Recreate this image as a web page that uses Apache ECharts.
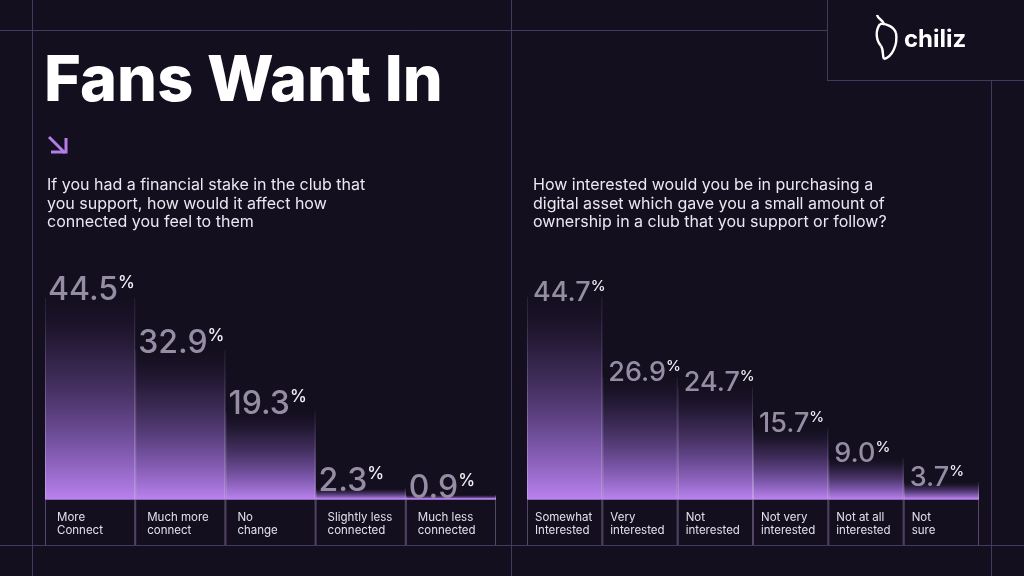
<!DOCTYPE html>
<html>
<head>
<meta charset="utf-8">
<script src="https://cdn.jsdelivr.net/npm/echarts@6/dist/echarts.min.js"></script>
<style>
html,body{margin:0;padding:0;background:#140f1f;}
#c{width:1024px;height:576px;}
</style>
</head>
<body>
<div id="c"></div>
<script>
var leftCategories = ['More\nConnect', 'Much more\nconnect', 'No\nchange', 'Slightly less\nconnected', 'Much less\nconnected'];
var leftValues = [44.5, 32.9, 19.3, 2.3, 0.9];
var rightCategories = ['Somewhat\nInterested', 'Very\ninterested', 'Not\ninterested', 'Not very\ninterested', 'Not at all\ninterested', 'Not\nsure'];
var rightValues = [44.7, 26.9, 24.7, 15.7, 9.0, 3.7];
var titleText = 'Fans Want In';
var leftQuestion = 'If you had a financial stake in the club that\nyou support, how would it affect how\nconnected you feel to them';
var rightQuestion = 'How interested would you be in purchasing a\ndigital asset which gave you a small amount of\nownership in a club that you support or follow?';

var chart = echarts.init(document.getElementById('c'));
var LINE = '#463a5c';

function makeRender(cats, numSize, pctSize, numOff, textOff) {
  return function (params, api) {
    var i = api.value(0), v = api.value(1);
    var top = api.coord([i, v]);
    var base = api.coord([i, 0]);
    var w = api.size([1, 0])[0];
    var x0 = top[0] - w / 2, x1 = top[0] + w / 2;
    var bottom = base[1] + 46;
    var h = base[1] - top[1];
    var lineGrad = {type: 'linear', x: 0, y: 0, x2: 0, y2: 1, colorStops: [
      {offset: 0, color: 'rgba(170,150,195,0.12)'},
      {offset: 1, color: 'rgba(205,185,230,0.55)'}
    ]};
    return {
      type: 'group',
      children: [
        {type: 'rect', shape: {x: x0, y: top[1], width: w, height: h}, style: {
          fill: {type: 'linear', x: 0, y: 0, x2: 0, y2: 1, colorStops: [
            {offset: 0, color: 'rgba(40,28,62,0)'},
            {offset: 0.3, color: 'rgba(78,54,110,0.5)'},
            {offset: 0.72, color: 'rgba(140,98,192,0.82)'},
            {offset: 1, color: '#b982ee'}
          ]}
        }},
        {type: 'line', shape: {x1: x0, y1: base[1], x2: x1, y2: base[1]}, style: {stroke: '#b982ee', lineWidth: 1.5}},
        {type: 'line', shape: {x1: x0 + 0.5, y1: top[1], x2: x0 + 0.5, y2: base[1]}, style: {stroke: lineGrad, lineWidth: 1}},
        {type: 'line', shape: {x1: x1 - 0.5, y1: top[1], x2: x1 - 0.5, y2: base[1]}, style: {stroke: lineGrad, lineWidth: 1}},
        {type: 'line', shape: {x1: x0 + 0.5, y1: base[1], x2: x0 + 0.5, y2: bottom}, style: {stroke: 'rgba(150,130,175,0.5)', lineWidth: 1}},
        {type: 'line', shape: {x1: x1 - 0.5, y1: base[1], x2: x1 - 0.5, y2: bottom}, style: {stroke: 'rgba(150,130,175,0.5)', lineWidth: 1}},
        {type: 'text', x: x0 + numOff, y: top[1] + 9, style: {
          text: '{n|' + v.toFixed(1) + '}{p|%}',
          align: 'left', verticalAlign: 'bottom',
          rich: {
            n: {fill: '#958da4', fontSize: numSize, fontFamily: 'Inter', fontWeight: 500},
            p: {fill: '#f2eff6', fontSize: pctSize, fontFamily: 'Inter', fontWeight: 500, verticalAlign: 'top'}
          }
        }},
        {type: 'text', x: x0 + textOff, y: base[1] + 12, style: {
          text: cats[i], fill: '#e4e0ea', fontSize: 11.5, fontFamily: 'Inter', lineHeight: 13,
          align: 'left', verticalAlign: 'top'
        }}
      ]
    };
  };
}

function bz(p) {
  return {type: 'bezierCurve', shape: {x1: p[0], y1: p[1], cpx1: p[2], cpy1: p[3], cpx2: p[4], cpy2: p[5], x2: p[6], y2: p[7]},
    style: {stroke: '#ffffff', lineWidth: 2.4, fill: null}};
}

var option = {
  backgroundColor: '#140f1f',
  animation: false,
  grid: [
    {left: 45, right: 528, top: 273, bottom: 77},
    {left: 527, right: 45, top: 273, bottom: 77}
  ],
  xAxis: [
    {type: 'category', gridIndex: 0, data: leftCategories, show: false},
    {type: 'category', gridIndex: 1, data: rightCategories, show: false}
  ],
  yAxis: [
    {type: 'value', gridIndex: 0, min: 0, max: 50, show: false},
    {type: 'value', gridIndex: 1, min: 0, max: 50, show: false}
  ],
  graphic: [
    {type: 'line', shape: {x1: 0, y1: 30.5, x2: 827, y2: 30.5}, style: {stroke: LINE, lineWidth: 1}},
    {type: 'line', shape: {x1: 32.5, y1: 0, x2: 32.5, y2: 576}, style: {stroke: LINE, lineWidth: 1}},
    {type: 'line', shape: {x1: 511.5, y1: 0, x2: 511.5, y2: 576}, style: {stroke: LINE, lineWidth: 1}},
    {type: 'line', shape: {x1: 827.5, y1: 0, x2: 827.5, y2: 80}, style: {stroke: LINE, lineWidth: 1}},
    {type: 'line', shape: {x1: 827, y1: 80.5, x2: 1024, y2: 80.5}, style: {stroke: LINE, lineWidth: 1}},
    {type: 'line', shape: {x1: 991.5, y1: 80, x2: 991.5, y2: 576}, style: {stroke: LINE, lineWidth: 1}},
    {type: 'line', shape: {x1: 0, y1: 545.5, x2: 1024, y2: 545.5}, style: {stroke: LINE, lineWidth: 1}},
    {type: 'text', x: 44, y: 51, style: {text: titleText, fill: '#ffffff', fontSize: 63, fontWeight: 800, fontFamily: 'Inter', verticalAlign: 'top', align: 'left'}},
    {type: 'polyline', shape: {points: [[49, 137], [65, 153]]}, style: {stroke: '#b47ee6', lineWidth: 3}},
    {type: 'polyline', shape: {points: [[51, 152], [66, 152], [66, 138]]}, style: {stroke: '#b47ee6', lineWidth: 3, fill: null}},
    {type: 'text', x: 47, y: 176, style: {text: leftQuestion, fill: '#ece8f2', fontSize: 16, fontFamily: 'Inter', lineHeight: 18.5, verticalAlign: 'top'}},
    {type: 'text', x: 533, y: 176, style: {text: rightQuestion, fill: '#ece8f2', fontSize: 16, fontFamily: 'Inter', lineHeight: 18.5, verticalAlign: 'top'}},
    bz([880, 24, 875, 31, 876, 40, 881, 46]),
    bz([881, 46, 884, 50, 882, 56, 884, 59]),
    bz([884, 59, 892, 57, 898, 45, 896, 33]),
    bz([896, 33, 894, 27, 886, 23, 880, 24]),
    bz([877, 15, 878, 19, 883, 20, 884, 24]),
    {type: 'text', x: 904, y: 28, style: {text: 'chiliz', fill: '#ffffff', fontSize: 24, fontWeight: 700, fontFamily: 'Inter', verticalAlign: 'top'}}
  ],
  series: [
    {type: 'custom', xAxisIndex: 0, yAxisIndex: 0, encode: {x: 0, y: 1},
     data: leftValues.map(function (v, i) { return [i, v]; }),
     renderItem: makeRender(leftCategories, 32, 17, 3, 12)},
    {type: 'custom', xAxisIndex: 1, yAxisIndex: 1, encode: {x: 0, y: 1},
     data: rightValues.map(function (v, i) { return [i, v]; }),
     renderItem: makeRender(rightCategories, 27, 15, 6, 8)}
  ]
};
chart.setOption(option);
</script>
</body>
</html>
